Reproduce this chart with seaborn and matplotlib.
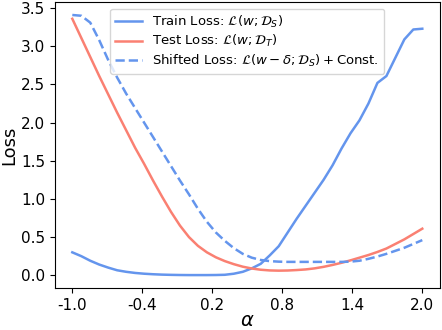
import numpy as np
import matplotlib
matplotlib.use("Agg")
import matplotlib.pyplot as plt
import seaborn as sns

# interpolation coefficient, 40 evenly spaced samples in [-1, 2]
alpha = np.linspace(-1.0, 2.0, 40)

train_loss = [0.30, 0.25, 0.19, 0.14, 0.10, 0.065, 0.045, 0.03, 0.02, 0.013,
              0.008, 0.005, 0.003, 0.002, 0.002, 0.002, 0.003, 0.006, 0.02, 0.045,
              0.09, 0.15, 0.26, 0.38, 0.56, 0.74, 0.91, 1.08, 1.25, 1.44,
              1.66, 1.86, 2.03, 2.25, 2.52, 2.61, 2.85, 3.09, 3.22, 3.23]

test_loss = [3.36, 3.11, 2.86, 2.61, 2.37, 2.13, 1.90, 1.67, 1.46, 1.24,
             1.03, 0.83, 0.65, 0.50, 0.385, 0.30, 0.235, 0.185, 0.145, 0.112,
             0.088, 0.072, 0.063, 0.06, 0.062, 0.068, 0.076, 0.09, 0.11, 0.135,
             0.163, 0.195, 0.23, 0.265, 0.305, 0.35, 0.41, 0.47, 0.54, 0.61]

shifted_loss = [3.41, 3.40, 3.31, 3.08, 2.82, 2.59, 2.38, 2.19, 2.00, 1.81,
                1.62, 1.43, 1.24, 1.06, 0.87, 0.70, 0.56, 0.45, 0.355, 0.28,
                0.23, 0.20, 0.185, 0.178, 0.175, 0.175, 0.175, 0.175, 0.175, 0.175,
                0.175, 0.178, 0.19, 0.215, 0.245, 0.28, 0.32, 0.36, 0.41, 0.46]

xtick_vals = [-1.0, -0.4, 0.2, 0.8, 1.4, 2.0]
xtick_labels = ["-1.0", "-0.4", "0.2", "0.8", "1.4", "2.0"]

plt.rcParams["axes.unicode_minus"] = False

fig, ax = plt.subplots(figsize=(4.42, 3.30), dpi=100)
fig.subplots_adjust(left=0.124, right=0.995, top=0.994, bottom=0.127)

sns.lineplot(x=alpha, y=train_loss, ax=ax, color="cornflowerblue", linewidth=1.8,
             label=r"Train Loss: $\mathcal{L}(w;\mathcal{D}_S)$")
sns.lineplot(x=alpha, y=test_loss, ax=ax, color="salmon", linewidth=1.8,
             label=r"Test Loss: $\mathcal{L}(w;\mathcal{D}_T)$")
sns.lineplot(x=alpha, y=shifted_loss, ax=ax, color="cornflowerblue", linewidth=1.8,
             linestyle="--",
             label=r"Shifted Loss: $\mathcal{L}(w-\delta;\mathcal{D}_S)+$Const.")

ax.set_xticks(xtick_vals)
ax.set_xticklabels(xtick_labels)
ax.tick_params(labelsize=11)
ax.set_xlabel(r"$\alpha$", fontsize=14, labelpad=-1)
ax.set_ylabel("Loss", fontsize=13, labelpad=2)
ax.legend(loc="upper center", fontsize=9.5, labelspacing=0.25)

plt.savefig("out.png", dpi=100)
